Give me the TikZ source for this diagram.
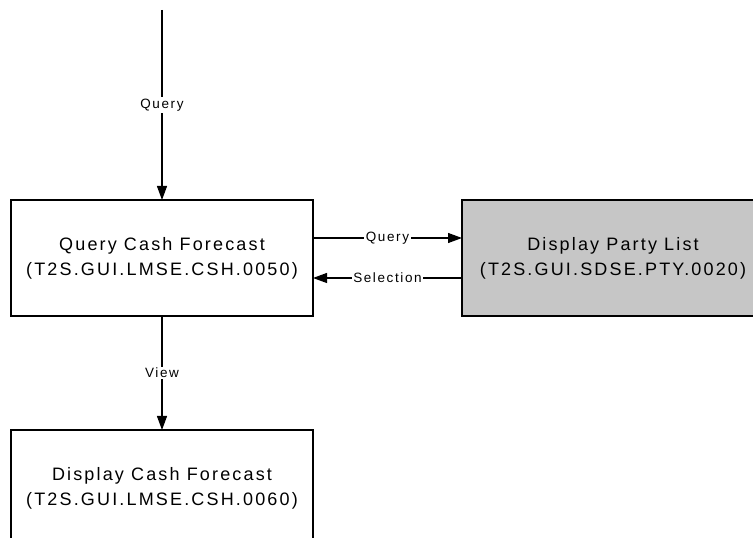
\documentclass[tikz,border=0pt]{standalone}
\usepackage{fontspec}
\setmainfont{Liberation Sans}
\usepackage{xcolor}
\usepackage{tikz}
\usetikzlibrary{positioning,arrows.meta}
\definecolor{PartyGray}{RGB}{198,198,198}
\tikzset{
    screenbox/.style={rectangle, draw=black, line width=1.3pt, minimum width=302pt, minimum height=116pt,
        inner sep=0pt, outer sep=0pt, align=center,
        font=\fontsize{18}{25}\selectfont\addfontfeature{LetterSpace=12}},
    flowlabel/.style={fill=white, inner sep=1.5pt, font=\fontsize{13.5}{15}\selectfont\addfontfeature{LetterSpace=12}},
    flow/.style={draw=black, line width=1.1pt, -{Triangle[length=14pt,width=10pt]}}
}
\begin{document}
\begin{tikzpicture}
    \useasboundingbox (0,0) rectangle (753pt,538pt);
    % Screens
    \node[screenbox] (querycash) at (162pt,280pt) {Query Cash Forecast\\(T2S.GUI.LMSE.CSH.0050)};
    \node[screenbox, fill=PartyGray, right=149pt of querycash] (partylist) {Display Party List\\(T2S.GUI.SDSE.PTY.0020)};
    \node[screenbox, below=114pt of querycash] (displaycash) {Display Cash Forecast\\(T2S.GUI.LMSE.CSH.0060)};
    % Entry point
    \coordinate[above=190pt of querycash.north] (entry);
    % Flows
    \draw[flow] (entry) -- node[flowlabel] {Query} (querycash.north);
    \draw[flow] ([yshift=20pt]querycash.east) -- node[flowlabel] {Query} ([yshift=20pt]partylist.west);
    \draw[flow] ([yshift=-20pt]partylist.west) -- node[flowlabel] {Selection} ([yshift=-20pt]querycash.east);
    \draw[flow] (querycash.south) -- node[flowlabel] {View} (displaycash.north);
\end{tikzpicture}
\end{document}
